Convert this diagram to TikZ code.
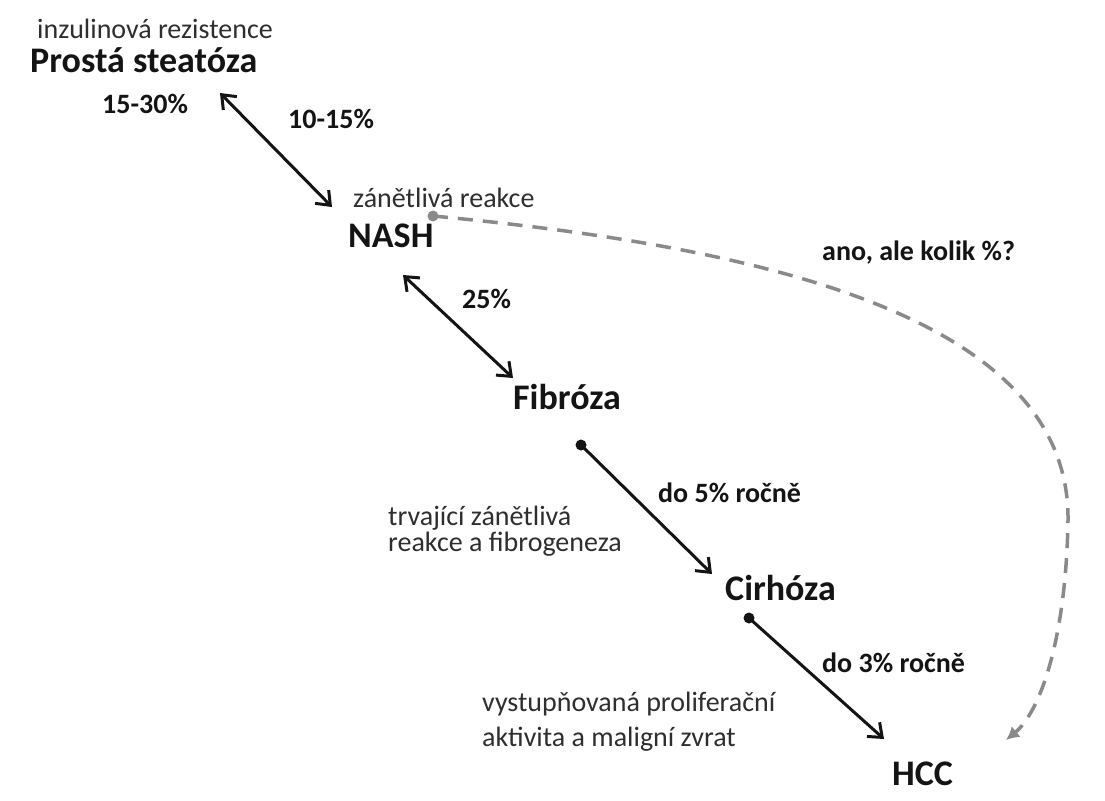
\documentclass[tikz,border=0pt]{standalone}
\usepackage{fontspec}
\setmainfont{Carlito}
\usetikzlibrary{arrows.meta}
\definecolor{ink}{HTML}{141414}
\definecolor{soft}{HTML}{2E2E2E}
\definecolor{dashgray}{HTML}{8A8A8A}
\begin{document}
\begin{tikzpicture}[x=1pt,y=-1pt,
  big/.style={anchor=base west,inner sep=0pt,font=\fontsize{36}{40}\selectfont\bfseries,text=ink},
  lab/.style={anchor=base west,inner sep=0pt,font=\fontsize{28}{32}\selectfont\bfseries,text=ink},
  note/.style={anchor=base west,inner sep=0pt,font=\fontsize{28}{32}\selectfont,text=soft},
  conn/.style={line width=3pt,draw=ink},
  barb/.tip={Straight Barb[length=12pt,width=19pt,line width=3pt]},
  dashconn/.style={line width=3.5pt,draw=dashgray,dash pattern=on 15pt off 10pt}
]
\fill[white] (0,0) rectangle (1105,800);
\useasboundingbox (0,0) rectangle (1105,800);

% texts
\node[note] (inz) at (37,39) {inzulinová rezistence};
\node[big]  (ps)  at (30,73) {Prostá steatóza};
\node[lab]  (p1)  at (102,113) {15-30\%};
\node[lab]  (p2)  at (288,128) {10-15\%};
\node[note] (zr)  at (353,207) {zánětlivá reakce};
\node[big]  (nash) at (348,247) {NASH};
\node[lab]  (p3)  at (462,308) {25\%};
\node[big]  (fib) at (513,409) {Fibróza};
\node[note] (tr1) at (388,525) {trvající zánětlivá};
\node[note] (tr2) at (388,551) {reakce a fibrogeneza};
\node[lab]  (p4)  at (658,502) {do 5\% ročně};
\node[big]  (cir) at (725,600) {Cirhóza};
\node[lab]  (p5)  at (822,672) {do 3\% ročně};
\node[note] (vy1) at (482,711) {vystupňovaná proliferační};
\node[note] (vy2) at (482,746) {aktivita a maligní zvrat};
\node[big]  (hcc) at (892,785) {HCC};
\node[lab]  (p6)  at (822,260) {ano, ale kolik \%?};

% connector end points
\coordinate (a1s) at (220,93);
\coordinate (a1e) at (332,207);
\coordinate (a2s) at (403,275);
\coordinate (a2e) at (513,378);
\coordinate (a3s) at (581,445);
\coordinate (a3e) at (712,574);
\coordinate (a4s) at (749,618);
\coordinate (a4e) at (884,739);
\coordinate (ds) at (433,216);
\coordinate (de) at (1006,740);

\draw[conn,barb-barb] (a1s) -- (a1e);
\draw[conn,barb-barb] (a2s) -- (a2e);
\draw[conn,-barb] (a3s) -- (a3e);
\fill[ink] (a3s) circle (5.5);
\draw[conn,-barb] (a4s) -- (a4e);
\fill[ink] (a4s) circle (5.5);

\draw[dashconn,-{Latex[length=13pt,width=14pt]}] (ds) .. controls (740,245) and (1070,310) .. (1068,520)
  .. controls (1066,640) and (1040,712) .. (de);
\fill[dashgray] (ds) circle (5.5);
\end{tikzpicture}
\end{document}
